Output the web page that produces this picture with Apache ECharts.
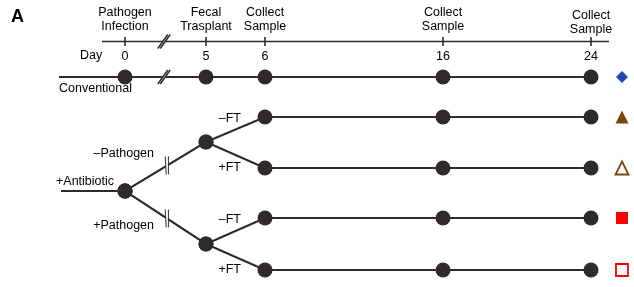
<!DOCTYPE html>
<html>
<head>
<meta charset="utf-8">
<script src="https://cdn.jsdelivr.net/npm/echarts@6/dist/echarts.min.js"></script>
<style>
  html, body { margin: 0; padding: 0; background: #fff; }
  #main { width: 634px; height: 287px; }
</style>
</head>
<body>
<div id="main"></div>
<script>
// timeline
const days = ['0', '5', '6', '16', '24']
const events = ['Pathogen\nInfection', 'Fecal\nTrasplant', 'Collect\nSample', 'Collect\nSample', 'Collect\nSample']
// groups (one row each) and their legend symbols
const groups = ['Conventional', '–Pathogen –FT', '–Pathogen +FT', '+Pathogen –FT', '+Pathogen +FT']
const pathogen = ['–Pathogen', '+Pathogen']
const ftLabels = ['–FT', '+FT', '–FT', '+FT']
const groupSymbols = ['diamond', 'triangle', 'triangle', 'rect', 'rect']
const groupColors = ['#1f47b0', '#7b4510', '#7b4510', '#ff0000', '#ff0000']
const groupFilled = [true, true, false, true, false]

// schematic layout (the day spacing is not to scale in the figure)
const dayX = [125, 206, 265, 443, 591]
const axisY = 41.5
const rowY = [77, 117, 168, 218, 270]
const abxY = 191
const pathY = [142, 244]
const markX = 622
const lineColor = '#2f2b2c'

const myChart = echarts.init(document.getElementById('main'))

// conventional path
const convPath = [{ value: [59, rowY[0]], symbol: 'none' }]
dayX.forEach(x => convPath.push([x, rowY[0]]))

// antibiotic tree paths
const treePaths = []
for (let i = 0; i < 4; i++) {
  const k = i < 2 ? 0 : 1
  treePaths.push([
    { value: [61, abxY], symbol: 'none' },
    [dayX[0], abxY],
    [dayX[1], pathY[k]],
    [dayX[2], rowY[i + 1]],
    [dayX[3], rowY[i + 1]],
    [dayX[4], rowY[i + 1]]
  ])
}

const lineSeries = [convPath].concat(treePaths).map(d => ({
  type: 'line',
  data: d,
  symbol: 'circle',
  symbolSize: 15,
  itemStyle: { color: lineColor, opacity: 1 },
  lineStyle: { color: lineColor, width: 2 },
  z: 2
}))

const textStyle = { fontFamily: 'Liberation Sans, Arial', fontSize: 12.5, color: '#000', opacity: 1 }

// break marks: [x, y, kind]
const breaks = [
  [164, axisY, 'slash'],
  [164, rowY[0], 'slash'],
  [167, 165.5, 'bar'],
  [167, 218.5, 'bar']
]

const option = {
  animation: false,
  grid: { left: 0, right: 0, top: 0, bottom: 0 },
  xAxis: { type: 'value', min: 0, max: 634, show: false },
  yAxis: { type: 'value', min: 0, max: 287, inverse: true, show: false },
  graphic: [
    { type: 'text', left: 11, top: 8, style: { text: 'A', font: 'bold 18px Liberation Sans, Arial', fill: '#000' } },
    { type: 'text', left: 80, top: 49, style: { text: 'Day', font: '12.5px Liberation Sans, Arial', fill: '#000' } }
  ],
  series: [
    // timeline axis line
    {
      type: 'line',
      data: [[102, axisY], [609, axisY]],
      symbol: 'none',
      lineStyle: { color: lineColor, width: 1.6 }
    },
    // ticks with events above
    {
      type: 'scatter',
      data: dayX.map((x, i) => ({
        value: [x, axisY],
        label: { distance: i === 4 ? 0 : 3 }
      })),
      symbol: 'rect',
      symbolSize: [1.6, 9],
      itemStyle: { color: lineColor, opacity: 1 },
      label: {
        show: true,
        position: 'top',
        lineHeight: 14.5,
        align: 'center',
        formatter: p => events[p.dataIndex],
        ...textStyle
      }
    },
    // day labels below ticks
    {
      type: 'scatter',
      data: dayX.map(x => [x, axisY]),
      symbolSize: 0,
      itemStyle: { opacity: 1 },
      label: {
        show: true,
        position: 'bottom',
        distance: 9,
        formatter: p => days[p.dataIndex],
        ...textStyle
      }
    },
    ...lineSeries,
    // break marks
    {
      type: 'custom',
      data: breaks,
      z: 5,
      renderItem: (params, api) => {
        const c = api.coord([api.value(0), api.value(1)])
        const kind = breaks[params.dataIndex][2]
        if (kind === 'slash') {
          const dx = 5, dy = 7
          return {
            type: 'group',
            children: [
              { type: 'line', shape: { x1: c[0] - dx, y1: c[1] + dy, x2: c[0] + dx, y2: c[1] - dy }, style: { stroke: '#fff', lineWidth: 3 } },
              { type: 'line', shape: { x1: c[0] - dx - 1.2, y1: c[1] + dy, x2: c[0] + dx - 1.2, y2: c[1] - dy }, style: { stroke: lineColor, lineWidth: 1.5 } },
              { type: 'line', shape: { x1: c[0] - dx + 1.2, y1: c[1] + dy, x2: c[0] + dx + 1.2, y2: c[1] - dy }, style: { stroke: lineColor, lineWidth: 1.5 } }
            ]
          }
        }
        const h = 9
        return {
          type: 'group',
          children: [
            { type: 'rect', shape: { x: c[0] - 1.2, y: c[1] - 4, width: 2.4, height: 8 }, style: { fill: '#fff' } },
            { type: 'line', shape: { x1: c[0] - 1.8, y1: c[1] - h, x2: c[0] - 0.8, y2: c[1] + h }, style: { stroke: lineColor, lineWidth: 1 } },
            { type: 'line', shape: { x1: c[0] + 1.4, y1: c[1] - h, x2: c[0] + 1.4, y2: c[1] + h }, style: { stroke: lineColor, lineWidth: 1 } }
          ]
        }
      }
    },
    // text labels for groups and branches
    {
      type: 'scatter',
      symbolSize: 0,
      itemStyle: { opacity: 1 },
      data: [
        { value: [59, 89], label: { formatter: groups[0], align: 'left' } },
        { value: [56, 182], label: { formatter: '+Antibiotic', align: 'left' } },
        { value: [154, 154], label: { formatter: pathogen[0], align: 'right' } },
        { value: [154, 226], label: { formatter: pathogen[1], align: 'right' } },
        ...ftLabels.map((t, i) => ({ value: [241, rowY[i + 1] + (i % 2 === 0 ? 2 : 0)], label: { formatter: t, align: 'right' } }))
      ],
      label: {
        show: true,
        position: 'inside',
        verticalAlign: 'middle',
        ...textStyle
      },
      z: 6
    },
    // group markers on the right
    {
      type: 'scatter',
      data: rowY.map((y, i) => ({
        value: [markX, y],
        symbol: groupSymbols[i],
        symbolSize: groupSymbols[i] === 'rect' ? 12 : (groupSymbols[i] === 'diamond' ? 12 : [13, 13]),
        itemStyle: {
          color: groupFilled[i] ? groupColors[i] : '#fff',
          borderColor: groupColors[i],
          borderWidth: groupFilled[i] ? 0 : 1.8,
          opacity: 1
        }
      }))
    }
  ]
}

myChart.setOption(option)
</script>
</body>
</html>
